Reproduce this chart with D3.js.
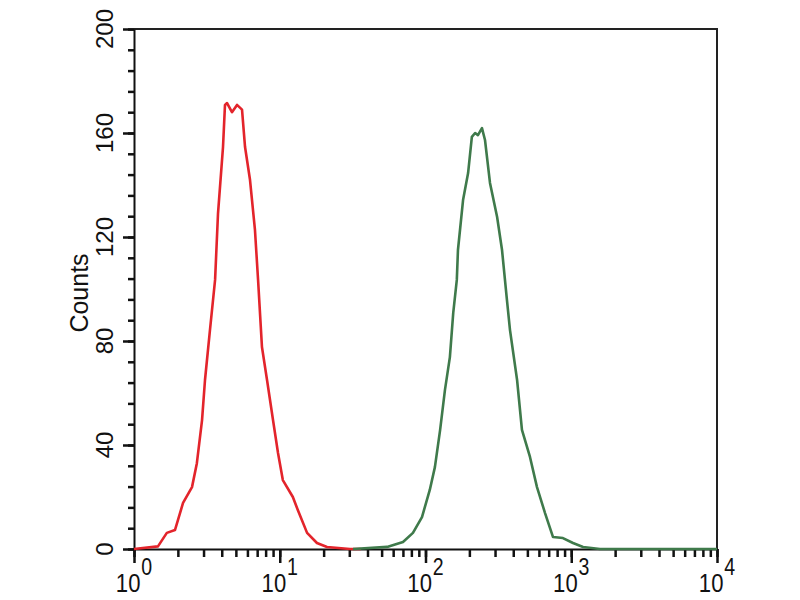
<!DOCTYPE html>
<html>
<head>
<meta charset="utf-8">
<script src="https://cdn.jsdelivr.net/npm/d3@7"></script>
<style>
  html, body { margin: 0; padding: 0; background: #fff; }
  svg { display: block; }
  text { font-family: "Liberation Sans", Arial, Helvetica, sans-serif; fill: #111; }
</style>
</head>
<body>
<svg id="chart" width="800" height="600"></svg>
<script>
// ---- data ----
const redX = [1, 1.46, 1.68, 1.91, 2.17, 2.50, 2.70, 2.93, 3.07, 3.32, 3.60, 3.77, 4.08, 4.21, 4.35, 4.70, 5.09, 5.51, 5.78, 6.25, 6.76, 7.10, 7.55, 8.18, 8.99, 9.73, 10.5, 12.3, 13.3, 15.4, 18.0, 21.1, 30.3, 36];
const redY = [0, 1, 6.2, 7.3, 17.7, 23.8, 33, 49.6, 65, 84.2, 103.5, 129, 154.6, 170.8, 171.5, 168, 170.8, 169, 154.6, 142, 122.7, 103.5, 77.7, 65, 49.6, 36.9, 26.5, 20, 15, 6.2, 2.3, 0.8, 0, 0];

const greenX = [31.8, 54.5, 70.1, 82.0, 94.6, 107, 116, 126, 136, 147, 155, 164, 167, 181, 196, 208, 219, 229, 244, 256, 277, 310, 335, 362, 380, 425, 459, 521, 582, 661, 750, 877, 1028, 1205, 1574, 10000];
const greenY = [0, 0.8, 2.7, 6.2, 12.3, 22.7, 31.5, 45.8, 61.2, 73.8, 90.8, 103.5, 115, 134.2, 144.6, 158.5, 160, 159.2, 161.9, 157.3, 140.8, 127.7, 115, 95.8, 84.2, 65, 45.8, 35.4, 23.8, 13.8, 4.6, 4.2, 2.3, 0.8, 0, 0];

const xMajorTicks = [1, 10, 100, 1000, 10000];
const xTickExponents = ["0", "1", "2", "3", "4"];
const yMajorTicks = [0, 40, 80, 120, 160, 200];
const yMinorTicks = d3.range(0, 201, 8);
const yLabel = "Counts";

// ---- layout ----
const margin = { left: 134, top: 29, right: 83, bottom: 51 };
const W = 800, H = 600;
const iw = W - margin.left - margin.right;
const ih = H - margin.top - margin.bottom;

const svg = d3.select("#chart");
const g = svg.append("g").attr("transform", `translate(${margin.left},${margin.top})`);

const x = d3.scaleLog().domain([1, 10000]).range([0, iw]);
const y = d3.scaleLinear().domain([0, 200]).range([ih, 0]);

const axisColor = "#111";

// frame (top and right)
g.append("path")
  .attr("d", `M0,0H${iw}V${ih}`)
  .attr("fill", "none")
  .attr("stroke", "#222")
  .attr("stroke-width", 2);

// y axis minor ticks
const yMinor = g.append("g").call(d3.axisLeft(y).tickValues(yMinorTicks).tickSize(6).tickFormat(""));
yMinor.select(".domain").remove();
yMinor.selectAll("line").attr("stroke", axisColor).attr("stroke-width", 2.5);

// y axis major ticks
const yAx = g.append("g").call(d3.axisLeft(y).tickValues(yMajorTicks).tickSize(11).tickSizeOuter(0).tickFormat(""));
yAx.select(".domain").attr("stroke", axisColor).attr("stroke-width", 2);
yAx.selectAll("line").attr("stroke", axisColor).attr("stroke-width", 2.5);

// y labels (rotated)
g.append("g").selectAll("text").data(yMajorTicks).join("text")
  .attr("transform", d => `translate(-21,${y(d)}) rotate(-90)`)
  .attr("text-anchor", "middle")
  .style("font-size", "24px")
  .text(d => d);

g.append("text")
  .attr("transform", `translate(-46,${(ih) / 2 + 4}) rotate(-90)`)
  .attr("text-anchor", "middle")
  .style("font-size", "25px")
  .text(yLabel);

// x axis minor ticks
const xMinor = g.append("g").attr("transform", `translate(0,${ih})`)
  .call(d3.axisBottom(x).tickValues(x.ticks()).tickSize(8).tickFormat(""));
xMinor.select(".domain").remove();
xMinor.selectAll("line").attr("stroke", axisColor).attr("stroke-width", 2.5);

// x axis major ticks
const xAx = g.append("g").attr("transform", `translate(0,${ih})`)
  .call(d3.axisBottom(x).tickValues(xMajorTicks).tickSize(14).tickSizeOuter(0).tickFormat(""));
xAx.select(".domain").attr("stroke", axisColor).attr("stroke-width", 2);
xAx.selectAll("line").attr("stroke", axisColor).attr("stroke-width", 2.5);

// x labels: 10 with superscript exponent
const xl = g.append("g").selectAll("g").data(xMajorTicks).join("g")
  .attr("transform", (d) => `translate(${x(d)},${ih + 43}) scale(0.85,1)`);
const xt = xl.append("text").attr("text-anchor", "middle");
xt.append("tspan").style("font-size", "26px").text("10");
xt.append("tspan").attr("dy", -17).attr("dx", 1).style("font-size", "23px")
  .text((d, i) => xTickExponents[i]);

// curves
const line = d3.line().x(d => x(d[0])).y(d => y(d[1]));
g.append("path")
  .datum(redX.map((v, i) => [v, redY[i]]))
  .attr("d", line)
  .attr("fill", "none")
  .attr("stroke", "#e3242b")
  .attr("stroke-width", 2.6)
  .attr("stroke-linejoin", "round");
g.append("path")
  .datum(greenX.map((v, i) => [v, greenY[i]]))
  .attr("d", line)
  .attr("fill", "none")
  .attr("stroke", "#3f7a4b")
  .attr("stroke-width", 2.6)
  .attr("stroke-linejoin", "round");
</script>
</body>
</html>
